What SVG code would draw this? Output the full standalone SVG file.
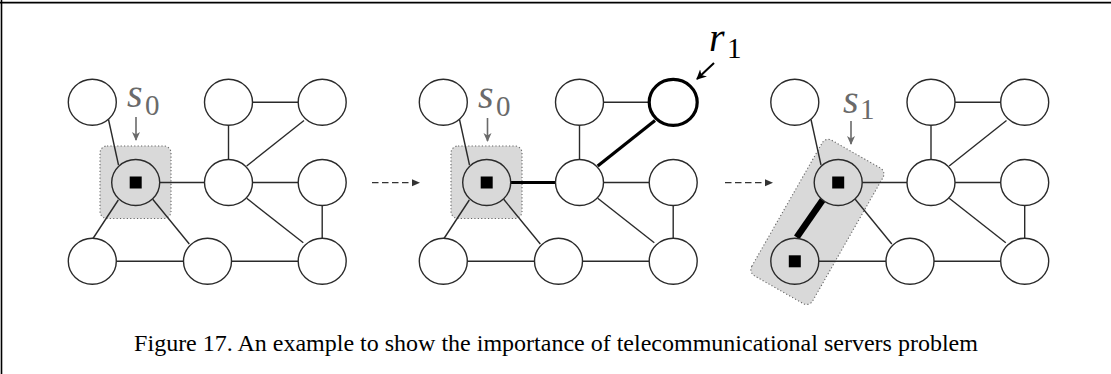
<svg xmlns="http://www.w3.org/2000/svg" width="1111" height="374" viewBox="0 0 1111 374">
<style>
.n{fill:#fff;stroke:#2a2a2a;stroke-width:1.4}
.srv{fill:#d9d9d9}
.bold{stroke:#000;stroke-width:3.2}
.e{stroke:#2a2a2a;stroke-width:1.4;fill:none}
.te{stroke:#000;stroke-width:3.2}
.xe{stroke:#000;stroke-width:6.5}
.box{fill:#d9d9d9;stroke:#666;stroke-width:1.1;stroke-dasharray:1.2 2.2}
.sq{fill:#000}
.lbl{font-family:"Liberation Serif",serif;font-style:italic;font-size:40px}
.sub{font-family:"Liberation Serif",serif;font-size:29px}
.gray{fill:#6a6a6a}
.pa{stroke:#6a6a6a;stroke-width:1.6;marker-end:url(#ag)}
.ra{stroke:#000;stroke-width:2;marker-end:url(#ab)}
.da{stroke:#333;stroke-width:1.3;stroke-dasharray:6.5 3.5;marker-end:url(#ad)}
.cap{font-family:"Liberation Serif","Times New Roman",serif;font-size:24px;fill:#000}
</style>
<defs>
<marker id="ag" markerUnits="userSpaceOnUse" markerWidth="12" markerHeight="10" refX="8" refY="4" orient="auto"><path d="M0,0 L9,4 L0,8 L2.5,4 Z" fill="#6a6a6a"/></marker>
<marker id="ab" markerUnits="userSpaceOnUse" markerWidth="13" markerHeight="11" refX="9" refY="5" orient="auto"><path d="M0,0 L10,5 L0,10 L3,5 Z" fill="#000"/></marker>
<marker id="ad" markerUnits="userSpaceOnUse" markerWidth="9" markerHeight="8" refX="0" refY="3.5" orient="auto"><path d="M0,0 L8,3.5 L0,7 Z" fill="#333"/></marker>
</defs>
<rect width="1111" height="374" fill="#fff"/>
<g id="frame" stroke="#000" stroke-width="1.6">
<line x1="0" y1="2.6" x2="1111" y2="2.6"/>
<line x1="1.5" y1="0" x2="1.5" y2="374"/>
</g>

<!-- Panel 1 -->
<g id="panel1">
<rect id="p1-group" class="box" x="100" y="146" width="71" height="72.5" rx="7"/>
<g id="p1-connectors" class="e">
<line x1="108.5" y1="119.5" x2="118.5" y2="165"/>
<line x1="159.7" y1="182.5" x2="204.5" y2="182.5"/>
<line x1="118.3" y1="200" x2="93" y2="238.5"/>
<line x1="152.7" y1="199.3" x2="189.3" y2="244"/>
<line x1="116.3" y1="261.3" x2="183.5" y2="261.3"/>
<line x1="231.5" y1="261.3" x2="298.2" y2="261.3"/>
<line x1="252.5" y1="102.3" x2="298.2" y2="102.3"/>
<line x1="228.5" y1="125.3" x2="228.5" y2="159.5"/>
<line x1="246.7" y1="166" x2="304" y2="120.5"/>
<line x1="252.5" y1="182.5" x2="298.2" y2="182.5"/>
<line x1="246.7" y1="198.3" x2="303.3" y2="242.7"/>
<line x1="322.2" y1="205.5" x2="322.2" y2="238.3"/>
</g>
<g id="p1-a"><ellipse class="n" cx="92.3" cy="102.3" rx="24" ry="23"/></g>
<g id="p1-b"><ellipse class="n srv" cx="135.7" cy="182.5" rx="24" ry="23"/><rect class="sq" x="129.7" y="176.5" width="12" height="12"/></g>
<g id="p1-c"><ellipse class="n" cx="228.5" cy="102.3" rx="24" ry="23"/></g>
<g id="p1-d"><ellipse class="n" cx="322.2" cy="102.3" rx="24" ry="23"/></g>
<g id="p1-e"><ellipse class="n" cx="228.5" cy="182.5" rx="24" ry="23"/></g>
<g id="p1-f"><ellipse class="n" cx="322.2" cy="182.5" rx="24" ry="23"/></g>
<g id="p1-g"><ellipse class="n" cx="92.3" cy="261.3" rx="24" ry="23"/></g>
<g id="p1-h"><ellipse class="n" cx="207.5" cy="261.3" rx="24" ry="23"/></g>
<g id="p1-i"><ellipse class="n" cx="322.2" cy="261.3" rx="24" ry="23"/></g>
<g id="p1-label">
<text class="lbl gray" x="127" y="107">s</text><text class="sub gray" x="145" y="114.5">0</text>
<line class="pa" x1="136" y1="117" x2="136" y2="140"/>
</g>
</g>

<g id="arrows">
<line class="da" x1="372" y1="182.7" x2="412" y2="182.7"/>
<line class="da" x1="725" y1="182.7" x2="765" y2="182.7"/>
</g>

<!-- Panel 2 -->
<g id="panel2" transform="translate(351,0)">
<rect id="p2-group" class="box" x="100" y="146" width="71" height="72.5" rx="7"/>
<g id="p2-connectors" class="e">
<line x1="108.5" y1="119.5" x2="118.5" y2="165"/>
<line class="te" x1="159.7" y1="182.5" x2="204.5" y2="182.5"/>
<line x1="118.3" y1="200" x2="93" y2="238.5"/>
<line x1="152.7" y1="199.3" x2="189.3" y2="244"/>
<line x1="116.3" y1="261.3" x2="183.5" y2="261.3"/>
<line x1="231.5" y1="261.3" x2="298.2" y2="261.3"/>
<line x1="252.5" y1="102.3" x2="298.2" y2="102.3"/>
<line x1="228.5" y1="125.3" x2="228.5" y2="159.5"/>
<line class="te" x1="246.7" y1="166" x2="304" y2="120.5"/>
<line x1="252.5" y1="182.5" x2="298.2" y2="182.5"/>
<line x1="246.7" y1="198.3" x2="303.3" y2="242.7"/>
<line x1="322.2" y1="205.5" x2="322.2" y2="238.3"/>
</g>
<g id="p2-a"><ellipse class="n" cx="92.3" cy="102.3" rx="24" ry="23"/></g>
<g id="p2-b"><ellipse class="n srv" cx="135.7" cy="182.5" rx="24" ry="23"/><rect class="sq" x="129.7" y="176.5" width="12" height="12"/></g>
<g id="p2-c"><ellipse class="n" cx="228.5" cy="102.3" rx="24" ry="23"/></g>
<g id="p2-d"><ellipse class="n bold" cx="322.2" cy="102.3" rx="24" ry="23"/></g>
<g id="p2-e"><ellipse class="n" cx="228.5" cy="182.5" rx="24" ry="23"/></g>
<g id="p2-f"><ellipse class="n" cx="322.2" cy="182.5" rx="24" ry="23"/></g>
<g id="p2-g"><ellipse class="n" cx="92.3" cy="261.3" rx="24" ry="23"/></g>
<g id="p2-h"><ellipse class="n" cx="207.5" cy="261.3" rx="24" ry="23"/></g>
<g id="p2-i"><ellipse class="n" cx="322.2" cy="261.3" rx="24" ry="23"/></g>
<g id="p2-label">
<text class="lbl gray" x="127" y="108">s</text><text class="sub gray" x="145" y="115.5">0</text>
<line class="pa" x1="136.5" y1="118" x2="136.5" y2="141"/>
</g>
<g id="p2-r1">
<text class="lbl" x="358" y="51">r</text><text class="sub" x="376" y="58">1</text>
<line class="ra" x1="363" y1="63" x2="346" y2="79"/>
</g>
</g>

<!-- Panel 3 -->
<g id="panel3" transform="translate(702.5,0)">
<rect id="p3-group" class="box" x="-78" y="-35" width="156" height="70" rx="7" transform="translate(114.9,221.9) rotate(-60.3)"/>
<g id="p3-connectors" class="e">
<line x1="108.5" y1="119.5" x2="118.5" y2="165"/>
<line x1="159.7" y1="182.5" x2="204.5" y2="182.5"/>
<line class="xe" x1="122.5" y1="196.7" x2="94.2" y2="237.3"/>
<line x1="152.7" y1="199.3" x2="189.3" y2="244"/>
<line x1="116.3" y1="261.3" x2="183.5" y2="261.3"/>
<line x1="231.5" y1="261.3" x2="298.2" y2="261.3"/>
<line x1="252.5" y1="102.3" x2="298.2" y2="102.3"/>
<line x1="228.5" y1="125.3" x2="228.5" y2="159.5"/>
<line x1="246.7" y1="166" x2="304" y2="120.5"/>
<line x1="252.5" y1="182.5" x2="298.2" y2="182.5"/>
<line x1="246.7" y1="198.3" x2="303.3" y2="242.7"/>
<line x1="322.2" y1="205.5" x2="322.2" y2="238.3"/>
</g>
<g id="p3-a"><ellipse class="n" cx="92.3" cy="102.3" rx="24" ry="23"/></g>
<g id="p3-b"><ellipse class="n srv" cx="135.7" cy="182.5" rx="24" ry="23"/><rect class="sq" x="129.7" y="176.5" width="12" height="12"/></g>
<g id="p3-c"><ellipse class="n" cx="228.5" cy="102.3" rx="24" ry="23"/></g>
<g id="p3-d"><ellipse class="n" cx="322.2" cy="102.3" rx="24" ry="23"/></g>
<g id="p3-e"><ellipse class="n" cx="228.5" cy="182.5" rx="24" ry="23"/></g>
<g id="p3-f"><ellipse class="n" cx="322.2" cy="182.5" rx="24" ry="23"/></g>
<g id="p3-g"><ellipse class="n srv" cx="92.3" cy="261.3" rx="24" ry="23"/><rect class="sq" x="86.3" y="255.3" width="12" height="12"/></g>
<g id="p3-h"><ellipse class="n" cx="207.5" cy="261.3" rx="24" ry="23"/></g>
<g id="p3-i"><ellipse class="n" cx="322.2" cy="261.3" rx="24" ry="23"/></g>
<g id="p3-label">
<text class="lbl gray" x="140.5" y="113">s</text><text class="sub gray" x="157.5" y="119">1</text>
<line class="pa" x1="148.5" y1="121" x2="148.5" y2="144"/>
</g>
</g>

<text class="cap" x="556" y="351" text-anchor="middle">Figure 17. An example to show the importance of telecommunicational servers problem</text>
</svg>
